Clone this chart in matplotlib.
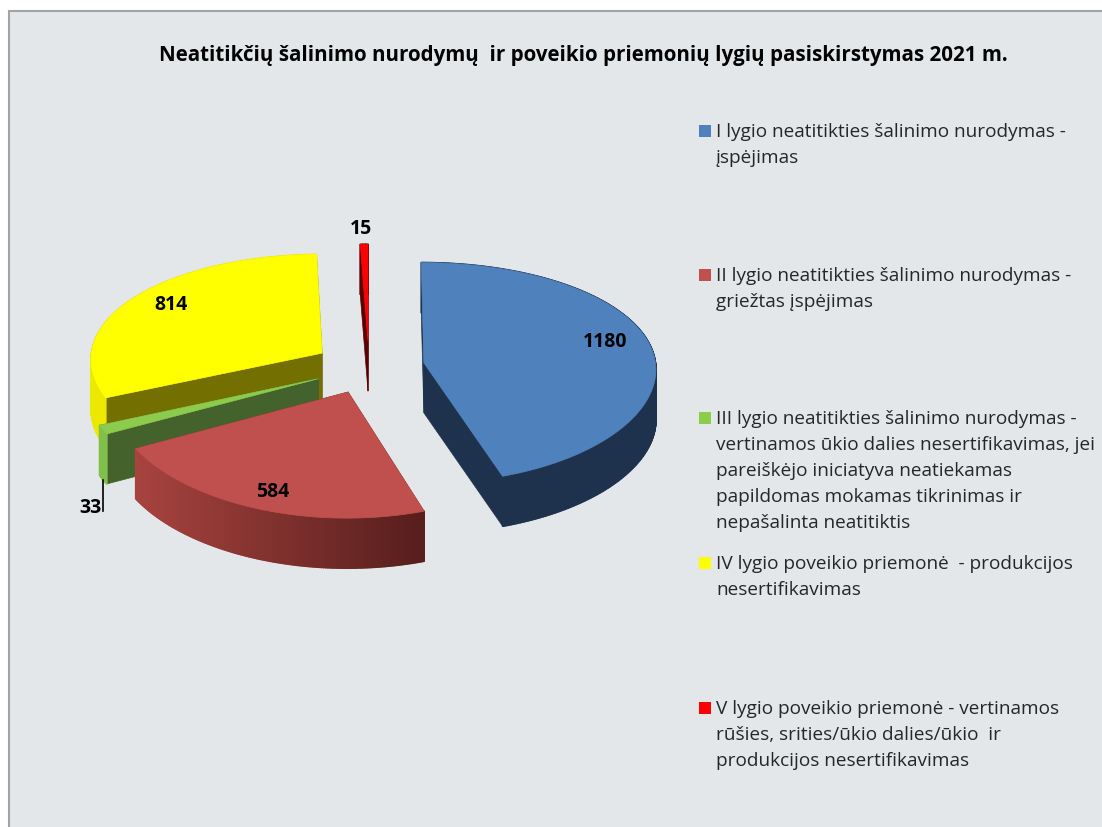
"""3D style exploded pie, drawn by hand because matplotlib has no such pie."""

import numpy as np
import matplotlib
matplotlib.use("Agg")
import matplotlib.pyplot as plt
from matplotlib.collections import PolyCollection
from matplotlib.colors import to_rgb
from matplotlib.patches import Rectangle

plt.rcParams["font.family"] = ["Open Sans", "DejaVu Sans"]

TITLE = "Neatitikčių šalinimo nurodymų  ir poveikio priemonių lygių pasiskirstymas 2021 m."
VALUES = [1180, 584, 33, 814, 15]
LEGEND = [
    "I lygio neatitikties šalinimo nurodymas -\nįspėjimas",
    "II lygio neatitikties šalinimo nurodymas -\ngriežtas įspėjimas",
    "III lygio neatitikties šalinimo nurodymas -\nvertinamos ūkio dalies nesertifikavimas, jei\n"
    "pareiškėjo iniciatyva neatiekamas\npapildomas mokamas tikrinimas ir\nnepašalinta neatitiktis",
    "IV lygio poveikio priemonė  - produkcijos\nnesertifikavimas",
    "V lygio poveikio priemonė - vertinamos\nrūšies, srities/ūkio dalies/ūkio  ir\nprodukcijos nesertifikavimas",
]

TOP_COLORS = ["#4F81BD", "#C0504D", "#8CCB4C", "#FFFF00", "#FF0000"]
FACE_COLORS = ["#1E324E", "#5A1F1E", "#44622C", "#736F00", "#5A0000"]
# wall colour at the left and right end of each slice's outer wall
WALL_COLORS = [
    ("#1E324E", "#1E324E"),
    ("#A8433F", "#561E1C"),
    ("#7FBF4A", "#7FBF4A"),
    ("#EDE800", "#EDE800"),
    ("#5A0000", "#5A0000"),
]
LEGEND_Y = [132, 276, 419, 564, 709]
LABEL_XY = [(605, 342), (273, 492), (90, 508), (171, 305), (361, 229)]

# pie geometry, in image pixels
CX, CY = 369, 367
RX, RY = 232, 110
PERSPECTIVE_X = 0.05
PERSPECTIVE_Y = 0.09
EXPLODE = 0.24
DEPTH = 50
START_ANGLE = 90.0
BG = "#E4E7EA"


def project(u, v):
    return CX + RX * u / (1 + PERSPECTIVE_X * v), CY - RY * v / (1 + PERSPECTIVE_Y * v)


def lerp_color(c0, c1, t):
    return tuple(a + (b - a) * t for a, b in zip(to_rgb(c0), to_rgb(c1)))


def draw_slice(ax, a0, a1, top, face, wall):
    # a0 > a1, clockwise, angles in degrees
    mid = np.radians((a0 + a1) / 2)
    ou, ov = EXPLODE * np.cos(mid), EXPLODE * np.sin(mid)
    th = np.radians(np.linspace(a0, a1, max(int(a0 - a1) * 2, 4)))
    rx, ry = project(ou + np.cos(th), ov + np.sin(th))
    ax_, ay_ = project(ou, ov)

    # cut faces, from the apex out to both ends of the rim
    for i in (0, -1):
        ax.fill([ax_, rx[i], rx[i], ax_], [ay_, ry[i], ry[i] + DEPTH, ay_ + DEPTH],
                color=face, lw=0.5, zorder=2)

    # outer wall as thin strips so the colour can change along x
    polys, cols = [], []
    span = max(rx.max() - rx.min(), 1)
    for i in range(len(th) - 1):
        polys.append([(rx[i], ry[i]), (rx[i + 1], ry[i + 1]),
                      (rx[i + 1], ry[i + 1] + DEPTH), (rx[i], ry[i] + DEPTH)])
        cols.append(lerp_color(wall[0], wall[1], (rx[i] - rx.min()) / span))
    ax.add_collection(PolyCollection(polys, facecolors=cols, edgecolors=cols, lw=1.2, zorder=2))

    ax.fill(np.r_[ax_, rx], np.r_[ay_, ry], color=top, lw=0.5, zorder=2)


fig = plt.figure(figsize=(11.02, 8.27), dpi=100)
ax = fig.add_axes([0, 0, 1, 1])
ax.set_xlim(0, 1102)
ax.set_ylim(827, 0)
ax.axis("off")
ax.add_patch(Rectangle((9, 11), 1200, 1000, facecolor=BG, edgecolor="#A3A3A3", lw=1.5, zorder=0))

ax.text(583, 56, TITLE, ha="center", va="center", fontsize=14.8, fontweight="bold", color="black")

angles = np.array(VALUES) / sum(VALUES) * 360
ends = START_ANGLE - np.cumsum(angles)
starts = ends + angles
# painter's order: back slices first
for i in [4, 3, 2, 1, 0]:
    draw_slice(ax, starts[i], ends[i], TOP_COLORS[i], FACE_COLORS[i], WALL_COLORS[i])

# leader line for the thin green slice
ax.plot([103, 103], [480, 511], color="black", lw=1.2, zorder=3)

for val, (x, y) in zip(VALUES, LABEL_XY):
    ax.text(x, y, str(val), ha="center", va="center", fontsize=14, fontweight="bold",
            color="black", zorder=4)

for label, color, y0 in zip(LEGEND, TOP_COLORS, LEGEND_Y):
    ax.add_patch(Rectangle((699, y0 - 7), 12, 12, color=color, lw=0, zorder=3))
    for j, line in enumerate(label.split("\n")):
        ax.text(716, y0 + j * 26, line, ha="left", va="center", fontsize=13.65,
                color="#262626", zorder=3)

fig.savefig("out.png", dpi=100)
